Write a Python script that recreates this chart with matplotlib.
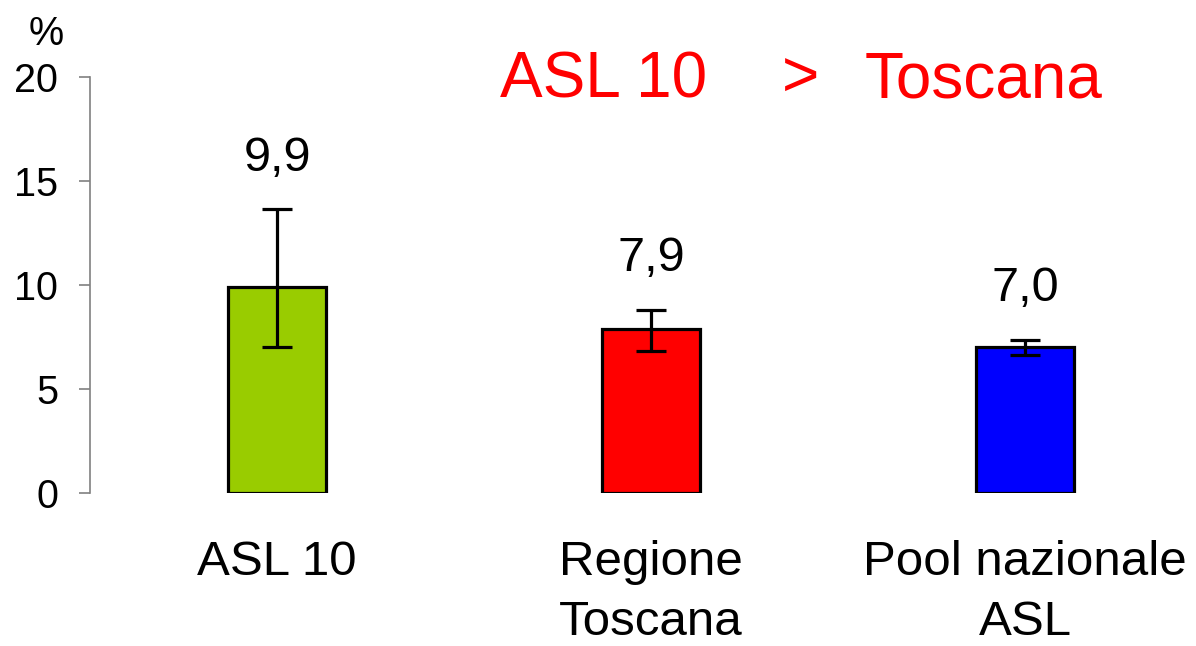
import numpy as np
import matplotlib as mpl
mpl.use("Agg")
import matplotlib.pyplot as plt

plt.rcParams['font.family'] = ['Liberation Sans', 'DejaVu Sans']

# data
categories = ["ASL 10", "Regione\nToscana", "Pool nazionale\nASL"]
values = [9.9, 7.9, 7.0]
ci_low = [7.0, 6.83, 6.65]
ci_high = [13.65, 8.8, 7.36]
colors = ['#99CC00', '#FF0000', '#0000FF']
yticks = [0, 5, 10, 15, 20]

W, H = 1196, 646
fig = plt.figure(figsize=(W / 100, H / 100), dpi=100)
ax = fig.add_axes([90 / W, 1 - 493 / H, (W - 90) / W, (493 - 77) / H])

x = np.arange(len(values))
vals = np.array(values)
err = [vals - np.array(ci_low), np.array(ci_high) - vals]

ax.bar(x, vals, width=0.262, color=colors, edgecolor='black', linewidth=2.3, zorder=2)
ax.errorbar(x, vals, yerr=err, fmt='none', ecolor='black', elinewidth=2.3,
            capsize=11, capthick=2.3, zorder=3)

for xi, v, top in zip(x, values, ci_high):
    ax.text(xi, top + 1.85, ("%.1f" % v).replace('.', ','), ha='center',
            va='baseline', fontsize=35)

ax.set_ylim(0, 20)
ax.set_xlim(-0.5, -0.5 + (W - 90) / 374)
ax.set_yticks(yticks)
ax.set_yticklabels([str(t) for t in yticks])
ax.set_xticks(x)
ax.set_xticklabels(categories, linespacing=1.42)
ax.tick_params(axis='x', length=0, pad=34, labelsize=35.5)
ax.tick_params(axis='y', length=8, width=1.2, color='#808080', pad=15, labelsize=28.5)

for s in ['top', 'right', 'bottom']:
    ax.spines[s].set_visible(False)
ax.spines['left'].set_color('#808080')
ax.spines['left'].set_linewidth(1.2)

fig.text(29 / W, 1 - 45 / H, "%", fontsize=28.5, ha='left', va='baseline')
fig.text(500 / W, 1 - 97 / H, "ASL 10", fontsize=46, color='red', va='baseline')
fig.text(782 / W, 1 - 97 / H, ">", fontsize=46, color='red', va='baseline')
fig.text(865 / W, 1 - 97 / H, "Toscana", fontsize=46, color='red', va='baseline')

fig.savefig("out.png", dpi=100)
